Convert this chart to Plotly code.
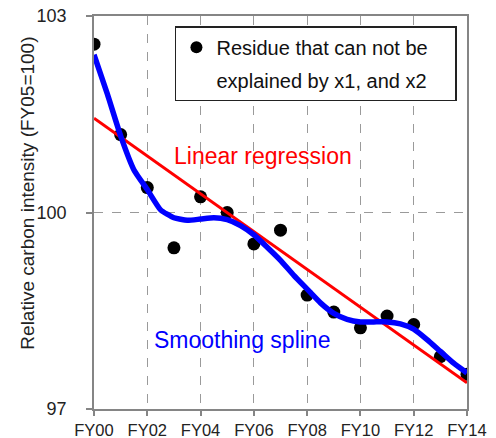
import plotly.graph_objects as go

# ---- data ----
years = list(range(15))
year_labels = ["FY00", "FY02", "FY04", "FY06", "FY08", "FY10", "FY12", "FY14"]
year_ticks = [0, 2, 4, 6, 8, 10, 12, 14]

residue = [102.57, 101.19, 100.38, 99.46, 100.24, 100.00, 99.52, 99.73,
           98.74, 98.48, 98.24, 98.42, 98.29, 97.80, 97.53]

linreg_x = [0, 14]
linreg_y = [101.44, 97.40]

spline_x = [0, 0.5, 1, 1.5, 2, 2.5, 3, 3.5, 4, 4.5, 5, 5.5, 6, 6.5, 7, 7.5,
            8, 8.5, 9, 9.5, 10, 10.5, 11, 11.5, 12, 12.5, 13, 13.5, 14]
spline_y = [102.41, 101.81, 101.17, 100.65, 100.35, 100.04, 99.92, 99.88,
            99.90, 99.92, 99.89, 99.80, 99.66, 99.47, 99.27, 99.04,
            98.83, 98.62, 98.46, 98.37, 98.33, 98.33, 98.33, 98.30,
            98.22, 98.06, 97.88, 97.70, 97.55]

y_ticks = [97, 100, 103]

FONT = "Liberation Sans, Arial, sans-serif"
AXIS_GRAY = "#858585"
NBSP = "\u00a0"

fig = go.Figure()

fig.add_trace(go.Scatter(
    x=years, y=residue, mode="markers",
    marker=dict(color="black", size=13),
    name="Residue that can not be" + NBSP * 4, showlegend=True,
    legendgroup="g1",
))
fig.add_trace(go.Scatter(
    x=[None], y=[None], mode="markers",
    marker=dict(color="rgba(0,0,0,0)", size=1),
    name="explained by x1, and x2", showlegend=True,
    legendgroup="g2",
))
fig.add_trace(go.Scatter(
    x=linreg_x, y=linreg_y, mode="lines",
    line=dict(color="#ff0000", width=3), showlegend=False,
))
fig.add_trace(go.Scatter(
    x=spline_x, y=spline_y, mode="lines",
    line=dict(color="#0000ff", width=5.5, shape="spline", smoothing=0.5),
    showlegend=False,
))

fig.update_layout(
    width=496, height=438,
    margin=dict(l=94, r=29, t=16, b=29),
    paper_bgcolor="white", plot_bgcolor="white",
    font=dict(family=FONT, size=17, color="#222222"),
    legend=dict(
        x=0.217, y=0.974, xanchor="left", yanchor="top",
        bgcolor="white", bordercolor="#222222", borderwidth=1.5,
        font=dict(size=20, color="#111111"),
        traceorder="grouped", tracegroupgap=4,
        itemsizing="constant",
    ),
    xaxis=dict(
        range=[0, 14], tickvals=year_ticks, ticktext=year_labels,
        showline=True, linecolor=AXIS_GRAY, linewidth=1.5, mirror=True,
        ticks="outside", ticklen=5, tickcolor=AXIS_GRAY, tickwidth=1.5,
        showgrid=True, gridcolor="#9a9a9a", griddash="dash", gridwidth=1.2,
        zeroline=False, tickfont=dict(size=16.5), automargin=False,
        ticklabeloverflow="allow",
    ),
    yaxis=dict(
        range=[97, 103], tickvals=y_ticks,
        showline=True, linecolor=AXIS_GRAY, linewidth=1.5, mirror=True,
        ticks="outside", ticklen=6, tickcolor=AXIS_GRAY, tickwidth=1.5,
        showgrid=True, gridcolor="#9a9a9a", griddash="dash", gridwidth=1.2,
        zeroline=False, tickfont=dict(size=18), ticklabelstandoff=16,
        automargin=False, ticklabeloverflow="allow",
    ),
    annotations=[
        dict(text="Relative carbon intensity (FY05=100)", textangle=-90,
             xref="paper", yref="paper", x=0, y=0.548, xshift=-66,
             xanchor="center", yanchor="middle", showarrow=False,
             font=dict(size=19, color="#222222")),
        dict(text="Linear regression", xref="paper", yref="paper",
             x=0.208, y=0.643, xanchor="left", yanchor="middle",
             showarrow=False, font=dict(size=23, color="#ff0000")),
        dict(text="Smoothing spline", xref="paper", yref="paper",
             x=0.155, y=0.176, xanchor="left", yanchor="middle",
             showarrow=False, font=dict(size=23, color="#0000ff")),
    ],
)

# remove the browser's default 8px page margin so the figure fills the window
fig.write_html("out.html", config={"displayModeBar": False},
               post_script="document.body.style.margin='0px';")
